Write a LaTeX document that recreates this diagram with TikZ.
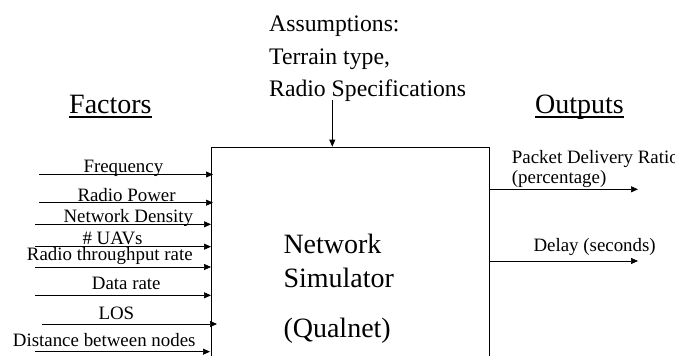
\documentclass[tikz,border=0pt]{standalone}
\usepackage{fontspec}
\setmainfont{Liberation Serif}
\usetikzlibrary{arrows.meta}
\begin{document}
\begin{tikzpicture}[x=1pt,y=-1pt,
  lbl/.style={anchor=base west,inner sep=0pt,font=\fontsize{18.9}{22}\selectfont},
  big/.style={anchor=base west,inner sep=0pt,font=\fontsize{28}{32}\selectfont},
  asm/.style={anchor=base west,inner sep=0pt,font=\fontsize{23.7}{27}\selectfont},
  arr/.style={line width=0.7pt,-{Triangle[length=7pt,width=6pt]}},
  simbox/.style={draw,line width=0.7pt,minimum width=278pt,minimum height=272pt,inner sep=0pt}]
\clip (0,0) rectangle (675,356);
% simulator box
\node[simbox] (sim) at (350,283) {};
\node[big] (t1) at (283.3,253.3) {Network};
\node[big] (t2) at (283.3,287.3) {Simulator};
\node[big] (t3) at (283.3,337.7) {(Qualnet)};
% assumptions
\node[asm] (a1) at (269,31.7) {Assumptions:};
\node[asm] (a2) at (269,64.2) {Terrain type,};
\node[asm] (a3) at (269,96.7) {Radio Specifications};
\coordinate (as) at (332.3,100);
\draw[arr] (as) -- (as |- sim.north);
% headers
\node[big] (fac) at (69,113.3) {Factors};
\draw[line width=1.8pt] (fac.base west) ++(0,4) coordinate (fu1) -- (fu1 -| fac.east);
\node[big] (out) at (535,113.3) {Outputs};
\draw[line width=1.8pt] (out.base west) ++(0,4) coordinate (ou1) -- (ou1 -| out.east);
% inputs
\node[lbl] (l1) at (83.3,172.3) {Frequency};
\node[lbl] (l2) at (77.3,201.2) {Radio Power};
\node[lbl] (l3) at (63.3,222.3) {Network Density};
\node[lbl] (l4) at (82.3,244.3) {\# UAVs};
\node[lbl] (l5) at (26.7,260.7) {Radio throughput rate};
\node[lbl] (l6) at (91.7,289) {Data rate};
\node[lbl] (l7) at (98.3,319) {LOS};
\node[lbl] (l8) at (12.7,346) {Distance between nodes};
\coordinate (s1) at (39,174.5);  \coordinate (e1) at (213,174.5);
\coordinate (s2) at (39,202.7);  \coordinate (e2) at (213,202.7);
\coordinate (s3) at (35,224.3);  \coordinate (e3) at (211,224.3);
\coordinate (s4) at (35,246.7);  \coordinate (e4) at (211,246.7);
\coordinate (s5) at (35,267);    \coordinate (e5) at (211,267);
\coordinate (s6) at (35,295.3);  \coordinate (e6) at (211,295.3);
\coordinate (s7) at (42,324);    \coordinate (e7) at (217,324);
\coordinate (s8) at (35,351.7);  \coordinate (e8) at (210,351.7);
\foreach \i in {1,...,8} \draw[arr] (s\i) -- (e\i);
% outputs
\node[lbl] (o1) at (511.7,163.3) {Packet Delivery Ratio};
\node[lbl] (o2) at (511.7,183.3) {(percentage)};
\node[lbl] (o3) at (533.3,251.5) {Delay (seconds)};
\coordinate (oe1) at (638,189.3);
\coordinate (oe2) at (638,261);
\draw[arr] (sim.east |- oe1) -- (oe1);
\draw[arr] (sim.east |- oe2) -- (oe2);
\end{tikzpicture}
\end{document}
